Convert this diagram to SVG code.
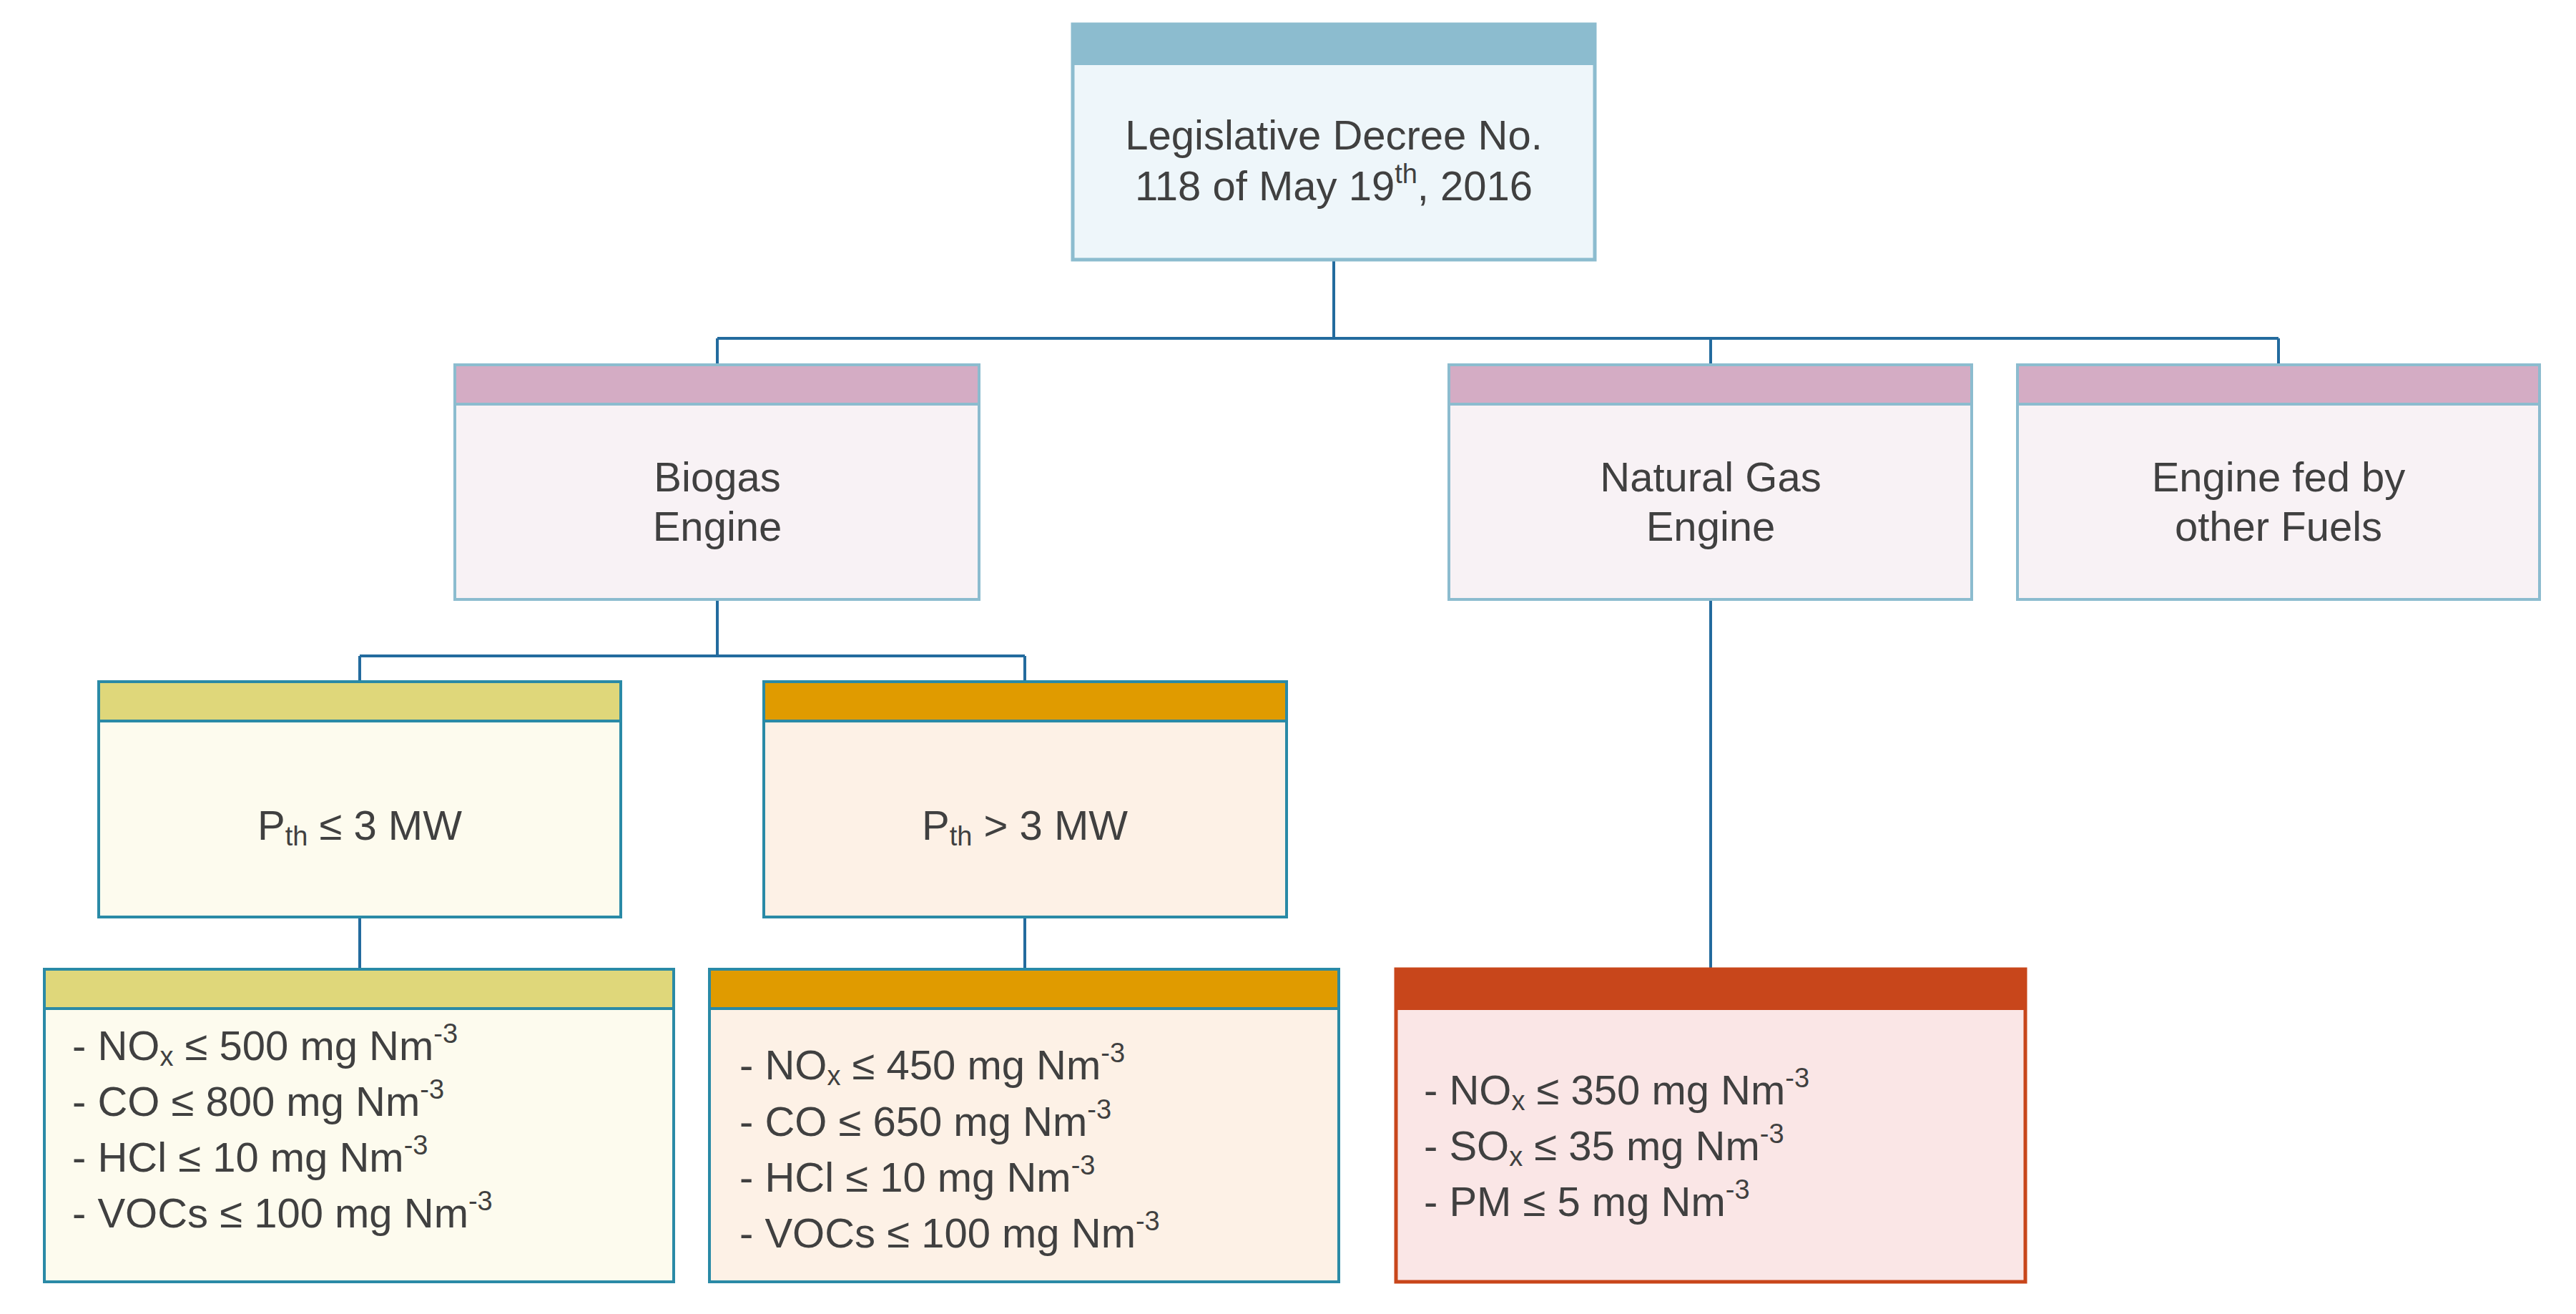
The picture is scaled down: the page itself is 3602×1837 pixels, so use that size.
<svg xmlns="http://www.w3.org/2000/svg" width="3602" height="1837" viewBox="0 0 3602 1837">
<style>
text{font-family:"Liberation Sans",Arial,sans-serif;font-size:58px;fill:#404040}
.c{text-anchor:middle}
.sub{font-size:38px;baseline-shift:-8px}
.sup{font-size:38px;baseline-shift:24px}
.conn{stroke:#236b9e;stroke-width:4;fill:none}
</style>
<rect width="3602" height="1837" fill="#fff"/>
<g id="connectors" class="conn">
<path d="M1865 363V473M1003 473H3186M1003 473V510M2392 473V510M3186 473V510"/>
<path d="M1003 838V917M503 917H1433M503 917V953M1433 917V953"/>
<path d="M503 1282V1355M1433 1282V1355M2392 838V1355"/>
</g>
<g id="top">
<rect x="1500" y="34" width="730" height="329" fill="#eef6fa" stroke="#8cbccf" stroke-width="5"/>
<rect x="1500" y="34" width="730" height="57" fill="#8cbccf"/>
<text class="c" x="1865" y="209">Legislative Decree No.</text>
<text class="c" x="1865" y="280">118 of May 19<tspan class="sup">th</tspan>, 2016</text>
</g>
<g id="biogas">
<rect x="636" y="510" width="733" height="328" fill="#f8f2f5" stroke="#8cbccf" stroke-width="4"/>
<rect x="636" y="510" width="733" height="55" fill="#d4acc4" stroke="#8cbccf" stroke-width="4"/>
<text class="c" x="1003" y="687">Biogas</text>
<text class="c" x="1003" y="756">Engine</text>
</g>
<g id="natgas">
<rect x="2026" y="510" width="731" height="328" fill="#f8f2f5" stroke="#8cbccf" stroke-width="4"/>
<rect x="2026" y="510" width="731" height="55" fill="#d4acc4" stroke="#8cbccf" stroke-width="4"/>
<text class="c" x="2392" y="687">Natural Gas</text>
<text class="c" x="2392" y="756">Engine</text>
</g>
<g id="other">
<rect x="2821" y="510" width="730" height="328" fill="#f8f2f5" stroke="#8cbccf" stroke-width="4"/>
<rect x="2821" y="510" width="730" height="55" fill="#d4acc4" stroke="#8cbccf" stroke-width="4"/>
<text class="c" x="3186" y="687">Engine fed by</text>
<text class="c" x="3186" y="756">other Fuels</text>
</g>
<g id="p_low">
<rect x="138" y="953" width="730" height="329" fill="#fdfbee" stroke="#2a8aa6" stroke-width="4"/>
<rect x="138" y="953" width="730" height="55" fill="#dfd77a" stroke="#2a8aa6" stroke-width="4"/>
<text class="c" x="503" y="1174">P<tspan class="sub">th</tspan> ≤ 3 MW</text>
</g>
<g id="p_high">
<rect x="1068" y="953" width="731" height="329" fill="#fdf1e6" stroke="#2a8aa6" stroke-width="4"/>
<rect x="1068" y="953" width="731" height="55" fill="#e09b00" stroke="#2a8aa6" stroke-width="4"/>
<text class="c" x="1433" y="1174">P<tspan class="sub">th</tspan> &gt; 3 MW</text>
</g>
<g id="limits_low">
<rect x="62" y="1355" width="880" height="437" fill="#fdfbee" stroke="#2a8aa6" stroke-width="4"/>
<rect x="62" y="1355" width="880" height="55" fill="#dfd77a" stroke="#2a8aa6" stroke-width="4"/>
<text x="101" y="1482">- NO<tspan class="sub">x</tspan> ≤ 500 mg Nm<tspan class="sup">-3</tspan></text>
<text x="101" y="1560">- CO ≤ 800 mg Nm<tspan class="sup">-3</tspan></text>
<text x="101" y="1638">- HCl ≤ 10 mg Nm<tspan class="sup">-3</tspan></text>
<text x="101" y="1716">- VOCs ≤ 100 mg Nm<tspan class="sup">-3</tspan></text>
</g>
<g id="limits_high">
<rect x="992" y="1355" width="880" height="437" fill="#fdf1e6" stroke="#2a8aa6" stroke-width="4"/>
<rect x="992" y="1355" width="880" height="55" fill="#e09b00" stroke="#2a8aa6" stroke-width="4"/>
<text x="1034" y="1509">- NO<tspan class="sub">x</tspan> ≤ 450 mg Nm<tspan class="sup">-3</tspan></text>
<text x="1034" y="1588">- CO ≤ 650 mg Nm<tspan class="sup">-3</tspan></text>
<text x="1034" y="1666">- HCl ≤ 10 mg Nm<tspan class="sup">-3</tspan></text>
<text x="1034" y="1744">- VOCs ≤ 100 mg Nm<tspan class="sup">-3</tspan></text>
</g>
<g id="limits_ng">
<rect x="1952" y="1355" width="880" height="437" fill="#fae6e6" stroke="#c8461b" stroke-width="5"/>
<rect x="1952" y="1355" width="880" height="57" fill="#c8461b"/>
<text x="1991" y="1544">- NO<tspan class="sub">x</tspan> ≤ 350 mg Nm<tspan class="sup">-3</tspan></text>
<text x="1991" y="1622">- SO<tspan class="sub">x</tspan> ≤ 35 mg Nm<tspan class="sup">-3</tspan></text>
<text x="1991" y="1700">- PM ≤ 5 mg Nm<tspan class="sup">-3</tspan></text>
</g>
</svg>
